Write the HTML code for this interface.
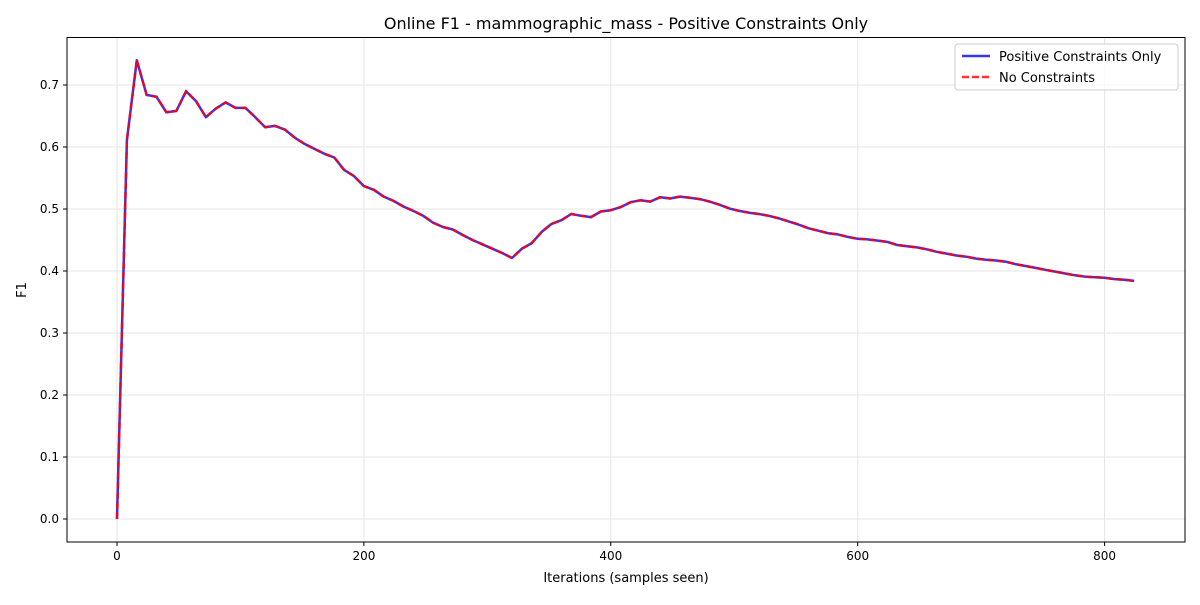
<!DOCTYPE html>
<html><head><meta charset="utf-8"><style>
body{margin:0;background:#fff;font-family:"Liberation Sans","DejaVu Sans",sans-serif}
</style></head><body>
<svg id="chart" width="1200" height="600" xmlns="http://www.w3.org/2000/svg" font-family="DejaVu Sans, Liberation Sans, sans-serif">
<rect width="1200" height="600" fill="#fff"/>
<text x="626" y="29" text-anchor="middle" font-size="16">Online F1 - mammographic_mass - Positive Constraints Only</text>
<g id="grid"></g>
<g id="series"></g>
<rect x="67" y="37.5" width="1118" height="504.5" fill="none" stroke="#000" stroke-width="1"/>
<g id="axes"></g>
<text x="626" y="582" text-anchor="middle" font-size="13">Iterations (samples seen)</text>
<text transform="translate(26,290) rotate(-90)" text-anchor="middle" font-size="13">F1</text>
<g>
<rect x="955" y="44" width="223" height="46" rx="3" fill="#fff" fill-opacity="0.8" stroke="#ccc"/>
<line x1="962" y1="56" x2="990" y2="56" stroke="#0000ff" stroke-opacity="0.8" stroke-width="2.5"/>
<text x="999" y="61" font-size="13">Positive Constraints Only</text>
<line x1="962" y1="77" x2="990" y2="77" stroke="#ff0000" stroke-opacity="0.8" stroke-width="2.5" stroke-dasharray="7,3"/>
<text x="999" y="82" font-size="13">No Constraints</text>
</g>
</svg>
<script>
const iterations = [];
for (let i = 0; i < 104; i++) iterations.push(i * 8);
const positiveF1 = [0,0.611,0.740,0.684,0.681,0.656,0.658,0.690,0.674,0.648,0.662,0.672,0.663,0.663,0.648,0.632,0.634,0.628,0.615,0.605,0.597,0.589,0.583,0.563,0.553,0.537,0.531,0.520,0.513,0.504,0.497,0.489,0.478,0.471,0.467,0.458,0.450,0.443,0.436,0.429,0.421,0.436,0.445,0.463,0.476,0.482,0.492,0.489,0.487,0.496,0.498,0.503,0.511,0.514,0.512,0.519,0.517,0.520,0.518,0.516,0.512,0.507,0.501,0.497,0.494,0.492,0.489,0.485,0.480,0.475,0.469,0.465,0.461,0.459,0.455,0.452,0.451,0.449,0.447,0.442,0.440,0.438,0.435,0.431,0.428,0.425,0.423,0.420,0.418,0.417,0.415,0.411,0.408,0.405,0.402,0.399,0.396,0.393,0.391,0.390,0.389,0.387,0.386,0.384];
const noConstraintF1 = positiveF1.slice();
const xTicks = [0,200,400,600,800];
const yTicks = [0.0,0.1,0.2,0.3,0.4,0.5,0.6,0.7];
const NS='http://www.w3.org/2000/svg';
const L=67,R=1185,T=37.5,B=542;
const xs=v=>117+v*1.2345;
const ys=v=>519-v*620;
const grid=document.getElementById('grid'),axes=document.getElementById('axes'),series=document.getElementById('series');
function mk(tag,attrs,parent){const e=document.createElementNS(NS,tag);for(const k in attrs)e.setAttribute(k,attrs[k]);parent.appendChild(e);return e;}
xTicks.forEach(t=>{const x=xs(t);
const g=mk('line',{x1:x,x2:x,y1:T,y2:B,stroke:'#e6e6e6','stroke-width':1},grid);


const k=mk('line',{x1:x,x2:x,y1:B,y2:B+4,stroke:'#000'},axes);


const tx=mk('text',{x:x,y:B+18,'text-anchor':'middle','font-size':12},axes);tx.textContent=t;

});
yTicks.forEach(t=>{const y=ys(t);
const g=mk('line',{x1:L,x2:R,y1:y,y2:y,stroke:'#e6e6e6','stroke-width':1},grid);


const k=mk('line',{x1:L-4,x2:L,y1:y,y2:y,stroke:'#000'},axes);


const tx=mk('text',{x:L-8,y:y+4,'text-anchor':'end','font-size':12},axes);tx.textContent=t.toFixed(1);

});
function pts(arr){return arr.map((v,i)=>xs(iterations[i]).toFixed(1)+','+ys(v).toFixed(1)).join(' ');}
const p1=mk('polyline',{points:pts(positiveF1),fill:'none',stroke:'#0000ff','stroke-opacity':0.8,'stroke-width':2.5,'stroke-linejoin':'round'},series);


const p2=mk('polyline',{points:pts(noConstraintF1),fill:'none',stroke:'#ff0000','stroke-opacity':0.8,'stroke-width':2.5,'stroke-dasharray':'7,3'},series);


</script>
</body></html>
